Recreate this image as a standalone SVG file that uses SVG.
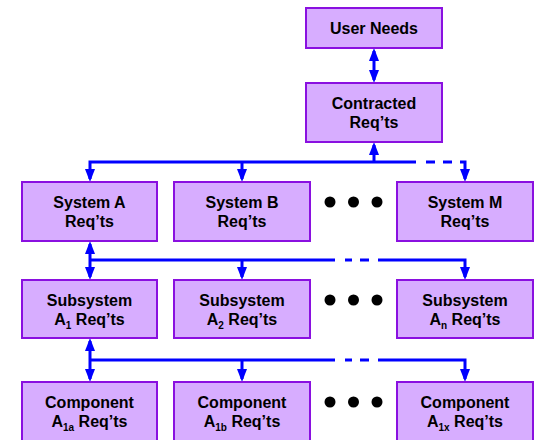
<svg xmlns="http://www.w3.org/2000/svg" width="537" height="440" viewBox="0 0 537 440">
<style>
.box{fill:#D7ADFF;stroke:#8A10E0;stroke-width:2}
.t{font-family:"Liberation Sans",Arial,Helvetica,sans-serif;font-weight:bold;font-size:16px;fill:#000;text-anchor:middle}
.sub{font-size:10px}
.c{fill:none;stroke:#0000FF;stroke-width:3}
.a{marker-end:url(#ah)}
.d{marker-start:url(#ah);marker-end:url(#ah)}
.dot{fill:#000}
</style>
<defs>
<marker id="ah" viewBox="0 0 13 10" refX="10" refY="5" markerWidth="13" markerHeight="10" markerUnits="userSpaceOnUse" orient="auto-start-reverse">
<path d="M0,0 L13,5 L0,10 z" fill="#0000FF"/>
</marker>
</defs>
<g id="connectors">
<path class="c d" d="M374,51 V80"/>
<path class="c a" d="M374,162 V145"/>
<path class="c a" d="M416,162 H90 V179"/>
<path class="c a" d="M242,162 V179"/>
<path class="c" d="M426,162 H435 M443,162 H452"/>
<path class="c a" d="M460,162 H465 V179"/>
<path class="c d" d="M90,244 V277"/>
<path class="c" d="M90,260 H335 M345,260 H352 M360,260 H369"/>
<path class="c a" d="M378,260 H465 V277"/>
<path class="c a" d="M242,260 V277"/>
<path class="c d" d="M90,341 V379"/>
<path class="c" d="M90,360 H335 M345,360 H352 M360,360 H369"/>
<path class="c a" d="M378,360 H465 V379"/>
<path class="c a" d="M242,360 V379"/>
</g>
<g id="user-needs">
<rect class="box" x="306" y="8" width="136" height="40"/>
<text class="t" x="374" y="34">User Needs</text>
</g>
<g id="contracted">
<rect class="box" x="306" y="83" width="136" height="59"/>
<text class="t" x="374" y="109">Contracted</text>
<text class="t" x="374" y="128">Req’ts</text>
</g>
<g id="system-a">
<rect class="box" x="22" y="182" width="135" height="59"/>
<text class="t" x="89.5" y="208">System A</text>
<text class="t" x="89.5" y="227">Req’ts</text>
</g>
<g id="system-b">
<rect class="box" x="174" y="182" width="136" height="59"/>
<text class="t" x="242" y="208">System B</text>
<text class="t" x="242" y="227">Req’ts</text>
</g>
<g id="dots-1">
<circle class="dot" cx="330" cy="202" r="5.5"/>
<circle class="dot" cx="353.5" cy="202" r="5.5"/>
<circle class="dot" cx="377" cy="202" r="5.5"/>
</g>
<g id="system-m">
<rect class="box" x="397" y="182" width="136" height="59"/>
<text class="t" x="465" y="208">System M</text>
<text class="t" x="465" y="227">Req’ts</text>
</g>
<g id="subsystem-a1">
<rect class="box" x="22" y="280" width="135" height="58"/>
<text class="t" x="89.5" y="306">Subsystem</text>
<text class="t" x="89.5" y="325">A<tspan class="sub" dy="4">1</tspan><tspan dy="-4"> Req’ts</tspan></text>
</g>
<g id="subsystem-a2">
<rect class="box" x="174" y="280" width="136" height="58"/>
<text class="t" x="242" y="306">Subsystem</text>
<text class="t" x="242" y="325">A<tspan class="sub" dy="4">2</tspan><tspan dy="-4"> Req’ts</tspan></text>
</g>
<g id="dots-2">
<circle class="dot" cx="330" cy="300" r="5.5"/>
<circle class="dot" cx="353.5" cy="300" r="5.5"/>
<circle class="dot" cx="377" cy="300" r="5.5"/>
</g>
<g id="subsystem-an">
<rect class="box" x="397" y="280" width="136" height="58"/>
<text class="t" x="465" y="306">Subsystem</text>
<text class="t" x="465" y="325">A<tspan class="sub" dy="4">n</tspan><tspan dy="-4"> Req’ts</tspan></text>
</g>
<g id="component-a1a">
<rect class="box" x="22" y="382" width="135" height="70"/>
<text class="t" x="89.5" y="408">Component</text>
<text class="t" x="89.5" y="427">A<tspan class="sub" dy="4">1a</tspan><tspan dy="-4"> Req’ts</tspan></text>
</g>
<g id="component-a1b">
<rect class="box" x="174" y="382" width="136" height="70"/>
<text class="t" x="242" y="408">Component</text>
<text class="t" x="242" y="427">A<tspan class="sub" dy="4">1b</tspan><tspan dy="-4"> Req’ts</tspan></text>
</g>
<g id="dots-3">
<circle class="dot" cx="330" cy="402" r="5.5"/>
<circle class="dot" cx="353.5" cy="402" r="5.5"/>
<circle class="dot" cx="377" cy="402" r="5.5"/>
</g>
<g id="component-a1x">
<rect class="box" x="397" y="382" width="136" height="70"/>
<text class="t" x="465" y="408">Component</text>
<text class="t" x="465" y="427">A<tspan class="sub" dy="4">1x</tspan><tspan dy="-4"> Req’ts</tspan></text>
</g>
</svg>
